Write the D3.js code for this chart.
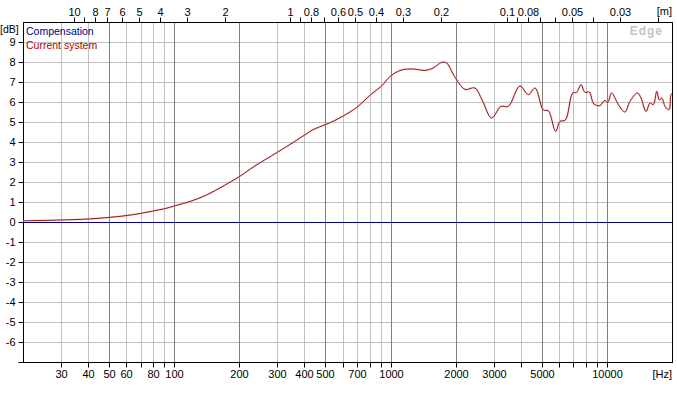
<!DOCTYPE html>
<html>
<head>
<meta charset="utf-8">
<script src="https://cdn.jsdelivr.net/npm/d3@7"></script>
<style>
  html, body { margin: 0; padding: 0; background: #fff; }
  svg { display: block; }
  text { font-family: "Liberation Sans", Arial, sans-serif; }
</style>
</head>
<body>
<svg id="chart" width="677" height="393"></svg>
<script>
// ---- data ----
const freqHz = [20, 30, 40, 50, 60, 70, 80, 90, 100, 120, 141, 170, 200, 236, 299, 361, 402, 439, 503, 553,
  604, 702, 806, 909, 1000, 1125, 1274, 1443, 1575, 1720, 1816, 1936, 2023, 2208, 2455, 2650, 2933,
  3238, 3500, 3963, 4333, 4656, 5085, 5361, 5800, 6070, 6430, 6950, 7250, 7590, 7920, 8290, 8710,
  9290, 9800, 10090, 10510, 11300, 12120, 12780, 13850, 14380, 15170, 15830, 16400, 17000, 17480,
  17920, 18570, 19020, 19420, 19780, 20000];
const currentDb = [0.06, 0.1, 0.15, 0.23, 0.32, 0.43, 0.55, 0.66, 0.8, 1.05, 1.35, 1.82, 2.27, 2.8, 3.48, 4.03, 4.36, 4.62, 4.88, 5.08,
  5.3, 5.75, 6.35, 6.8, 7.3, 7.6, 7.65, 7.58, 7.7, 7.98, 7.95, 7.45, 7.1, 6.63, 6.7, 6.1, 5.2,
  5.78, 5.78, 6.8, 6.37, 6.7, 5.6, 5.56, 4.53, 5.03, 5.1, 6.45, 6.48, 6.87, 6.48, 6.5, 5.9,
  5.82, 6.08, 5.98, 6.45, 5.87, 5.5, 6.03, 6.45, 6.2, 5.53, 5.95, 5.87, 6.53, 6.1,
  6.2, 5.78, 5.65, 5.62, 6.37, 6.4];
const compensationHz = [20, 20000];
const compensationDb = [0, 0];

const seriesNames = ["Compensation", "Current system"];
const freqTicks = [30, 40, 50, 60, 70, 80, 90, 100, 200, 300, 400, 500, 600, 700, 800, 900,
  1000, 2000, 3000, 4000, 5000, 6000, 7000, 8000, 9000, 10000];
const freqLabels = [30, 40, 50, 60, 80, 100, 200, 300, 400, 500, 700, 1000, 2000, 3000, 5000, 10000];
const majorGrid = [50, 100, 200, 500, 1000, 2000, 5000, 10000];
const meterTicks = [10, 9, 8, 7, 6, 5, 4, 3, 2, 1, 0.9, 0.8, 0.7, 0.6, 0.5, 0.4, 0.3, 0.2,
  0.1, 0.09, 0.08, 0.07, 0.06, 0.05, 0.04, 0.03, 0.02];
const meterLabels = [10, 8, 7, 6, 5, 4, 3, 2, 1, 0.8, 0.6, 0.5, 0.4, 0.3, 0.2, 0.1, 0.08, 0.05, 0.03];
const dbTicks = [-7, -6, -5, -4, -3, -2, -1, 0, 1, 2, 3, 4, 5, 6, 7, 8, 9];
const dbLabels = [-6, -5, -4, -3, -2, -1, 0, 1, 2, 3, 4, 5, 6, 7, 8, 9];
const soundSpeed = 344;

// ---- layout ----
const L = 23, R = 672, T = 22, B = 362;
const svg = d3.select("#chart");
const x = d3.scaleLog().domain([20, 20000]).range([L, R]);
const y = d3.scaleLinear().domain([-7, 10]).range([B, T]);
const xm = d3.scaleLog().domain([soundSpeed / 20, soundSpeed / 20000]).range([L, R]);
const px = v => Math.round(v) + 0.5;

// grid
const grid = svg.append("g");
grid.selectAll("line.h").data(dbTicks.filter(d => d > -7)).enter().append("line")
  .attr("x1", L).attr("x2", R)
  .attr("y1", d => px(y(d))).attr("y2", d => px(y(d)))
  .attr("stroke", "#c0c0c0").attr("stroke-width", 1);
grid.selectAll("line.v").data(freqTicks).enter().append("line")
  .attr("y1", T).attr("y2", B)
  .attr("x1", d => px(x(d))).attr("x2", d => px(x(d)))
  .attr("stroke", d => majorGrid.includes(d) ? "#808080" : "#c0c0c0").attr("stroke-width", 1);

// axes
const fmtSet = (arr) => { const s = new Set(arr.map(String)); return d => s.has(String(d)) ? String(d) : ""; };
const gx = svg.append("g").attr("transform", `translate(0.5,${B + 0.5})`)
  .call(d3.axisBottom(x).tickValues(freqTicks).tickSize(5).tickFormat(fmtSet(freqLabels)));
const gt = svg.append("g").attr("transform", `translate(0.5,${T + 0.5})`)
  .call(d3.axisTop(xm).tickValues(meterTicks).tickSize(5).tickFormat(fmtSet(meterLabels)));
const gy = svg.append("g").attr("transform", `translate(${L + 0.5},0.5)`)
  .call(d3.axisLeft(y).tickValues(dbTicks).tickSize(5).tickFormat(fmtSet(dbLabels)));
[gx, gt, gy].forEach(g => {
  g.select(".domain").remove();
  g.selectAll("line").attr("stroke", "#000");
  g.selectAll("text").attr("font-size", "11px").attr("fill", "#000")
    .attr("font-family", "'Liberation Sans', Arial, sans-serif");
});
gy.selectAll(".tick").attr("transform", d => `translate(0,${Math.round(y(d))})`);
gx.selectAll(".tick").attr("transform", d => `translate(${Math.round(x(d))},0)`);
gt.selectAll(".tick").attr("transform", d => `translate(${Math.round(xm(d))},0)`);
gt.selectAll("text").attr("y", -7);

// unit labels
svg.append("text").attr("x", 0).attr("y", 33).attr("text-anchor", "start")
  .attr("font-size", "10.5px").text("[dB]");
svg.append("text").attr("x", 672).attr("y", 378).attr("text-anchor", "end")
  .attr("font-size", "11px").text("[Hz]");
svg.append("text").attr("x", 672).attr("y", 15).attr("text-anchor", "end")
  .attr("font-size", "11px").text("[m]");

// frame
svg.append("rect").attr("x", L + 0.5).attr("y", T + 0.5)
  .attr("width", R - L).attr("height", B - T)
  .attr("fill", "none").attr("stroke", "#000").attr("stroke-width", 1);

// watermark
svg.append("text").attr("x", 663).attr("y", 35).attr("text-anchor", "end")
  .attr("font-size", "12px").attr("font-weight", "bold").attr("letter-spacing", "1px")
  .attr("fill", "#c4c4c4").attr("font-family", "'DejaVu Sans', Verdana, sans-serif").text("Edge");

// lines
const line = d3.line().x(d => x(d[0])).y(d => y(d[1])).curve(d3.curveCatmullRom.alpha(0.5));
const comp = compensationHz.map((f, i) => [f, compensationDb[i]]);
const cur = freqHz.map((f, i) => [f, currentDb[i]]);
svg.append("line")
  .attr("x1", x(comp[0][0])).attr("x2", x(comp[1][0]))
  .attr("y1", px(y(comp[0][1]))).attr("y2", px(y(comp[1][1])))
  .attr("stroke", "#000080").attr("stroke-width", 1);
svg.append("path").datum(cur).attr("d", line)
  .attr("fill", "none").attr("stroke", "#f4c0c0").attr("stroke-width", 2.2).attr("opacity", 0.5);
svg.append("path").datum(cur).attr("d", line)
  .attr("fill", "none").attr("stroke", "#901010").attr("stroke-width", 1);

// legend
svg.append("text").attr("x", 26).attr("y", 35).attr("font-size", "10.5px")
  .attr("fill", "#000080").text(seriesNames[0]);
svg.append("text").attr("x", 26).attr("y", 49).attr("font-size", "10.5px")
  .attr("fill", "#b00000").text(seriesNames[1]);
</script>
</body>
</html>
